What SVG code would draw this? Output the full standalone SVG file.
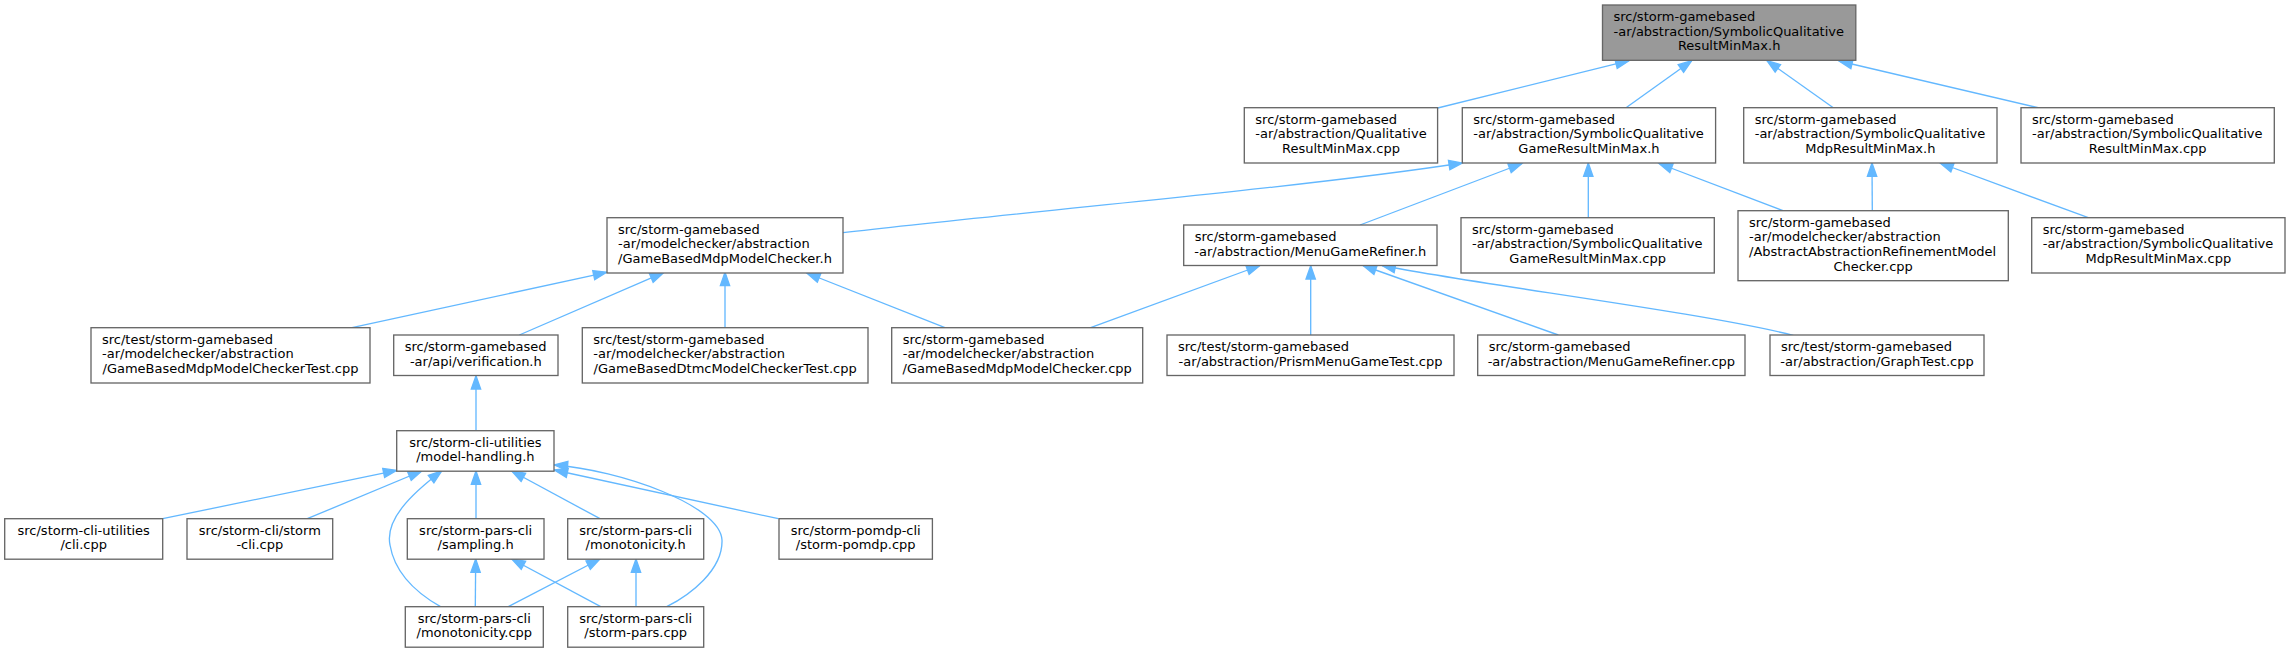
<svg xmlns="http://www.w3.org/2000/svg" width="2291" height="652" viewBox="0 0 2291 652">
<style>
.node rect{fill:#ffffff;stroke:#666666;stroke-width:1.33}
.node.root rect{fill:#999999}
.node text{font-family:"DejaVu Sans",sans-serif;font-size:13px;fill:#000000}
.l{text-anchor:start}
.c{text-anchor:middle}
.edges path{fill:none;stroke:#63b8ff;stroke-width:1.33;marker-start:url(#ah)}
</style>
<defs>
<marker id="ah" markerUnits="userSpaceOnUse" markerWidth="16" markerHeight="12" refX="13.3" refY="4.67" orient="auto-start-reverse" overflow="visible">
<path d="M0,0 L13.3,4.67 L0,9.33 Z" fill="#63b8ff" stroke="#63b8ff" stroke-width="1.33"/>
</marker>
</defs>
<rect width="2291" height="652" fill="#ffffff"/>
<g id="edges" class="edges">
<path d="M1629,60.7 L1437.7,108"/>
<path d="M1691.7,60.7 L1626,107.7"/>
<path d="M1767,60.7 L1833.3,107.7"/>
<path d="M1839,61 L2038.3,107.7"/>
<path d="M1462.3,163 C1300,188 1000,214 843,232.7"/>
<path d="M1522,163.5 L1360,225"/>
<path d="M1588.3,163 L1588.3,217.7"/>
<path d="M1659,163.5 L1783,210.7"/>
<path d="M1872,163 L1872.3,210.7"/>
<path d="M1940,163 L2088.3,217.7"/>
<path d="M606.7,272.3 L352,327.7"/>
<path d="M663.5,272.7 L519.3,335"/>
<path d="M725,272.3 L725,327.7"/>
<path d="M806.7,273 L945,327.7"/>
<path d="M1260,265.5 L1090.6,327.7"/>
<path d="M1310.7,265.7 L1310.7,335"/>
<path d="M1363,265.5 L1558.3,335"/>
<path d="M1382,265.5 C1480,285 1700,312 1793.3,335.3"/>
<path d="M476,375.7 L476,430.7"/>
<path d="M396.7,470.3 L162.7,518.7"/>
<path d="M421.7,471 L307.3,518.7"/>
<path d="M476,471 L476,518.7"/>
<path d="M511.7,471 L600,518.7"/>
<path d="M554.3,470 L778.3,518.7"/>
<path d="M441.7,471 C410,495 385,520 390,545 C395,575 420,595 440.5,606.7"/>
<path d="M554.3,465 C620,470 720,505 722,540 C723,570 690,595 666.7,606.7"/>
<path d="M475.7,559 L475.3,606.7"/>
<path d="M511.7,559 L600.7,606.7"/>
<path d="M600,559 L508.3,606.7"/>
<path d="M636,559 L636,606.7"/>
</g>
<g id="n0" class="node root"><rect x="1602.5" y="5" width="253.3" height="55.3"/><text class="l" x="1613.5" y="21">src/storm-gamebased</text><text class="l" x="1613.5" y="35.7">-ar/abstraction/SymbolicQualitative</text><text class="c" x="1729.15" y="50.3">ResultMinMax.h</text></g>
<g id="n1" class="node"><rect x="1244.3" y="107.7" width="193.3" height="55.3"/><text class="l" x="1255.3" y="123.7">src/storm-gamebased</text><text class="l" x="1255.3" y="138.4">-ar/abstraction/Qualitative</text><text class="c" x="1340.95" y="153">ResultMinMax.cpp</text></g>
<g id="n2" class="node"><rect x="1462.3" y="107.7" width="253.3" height="55.3"/><text class="l" x="1473.3" y="123.7">src/storm-gamebased</text><text class="l" x="1473.3" y="138.4">-ar/abstraction/SymbolicQualitative</text><text class="c" x="1588.95" y="153">GameResultMinMax.h</text></g>
<g id="n3" class="node"><rect x="1743.7" y="107.7" width="253.3" height="55.3"/><text class="l" x="1754.7" y="123.7">src/storm-gamebased</text><text class="l" x="1754.7" y="138.4">-ar/abstraction/SymbolicQualitative</text><text class="c" x="1870.35" y="153">MdpResultMinMax.h</text></g>
<g id="n4" class="node"><rect x="2021" y="107.7" width="253.3" height="55.3"/><text class="l" x="2032" y="123.7">src/storm-gamebased</text><text class="l" x="2032" y="138.4">-ar/abstraction/SymbolicQualitative</text><text class="c" x="2147.65" y="153">ResultMinMax.cpp</text></g>
<g id="n5" class="node"><rect x="607" y="217.7" width="236" height="55.3"/><text class="l" x="618" y="233.7">src/storm-gamebased</text><text class="l" x="618" y="248.4">-ar/modelchecker/abstraction</text><text class="c" x="725" y="263">/GameBasedMdpModelChecker.h</text></g>
<g id="n6" class="node"><rect x="1183.7" y="225" width="253.3" height="40.5"/><text class="l" x="1194.7" y="241">src/storm-gamebased</text><text class="c" x="1310.35" y="255.7">-ar/abstraction/MenuGameRefiner.h</text></g>
<g id="n7" class="node"><rect x="1461" y="217.7" width="253.3" height="55.3"/><text class="l" x="1472" y="233.7">src/storm-gamebased</text><text class="l" x="1472" y="248.4">-ar/abstraction/SymbolicQualitative</text><text class="c" x="1587.65" y="263">GameResultMinMax.cpp</text></g>
<g id="n8" class="node"><rect x="1738" y="210.7" width="270.3" height="70"/><text class="l" x="1749" y="226.7">src/storm-gamebased</text><text class="l" x="1749" y="241.4">-ar/modelchecker/abstraction</text><text class="l" x="1749" y="256">/AbstractAbstractionRefinementModel</text><text class="c" x="1873.15" y="270.7">Checker.cpp</text></g>
<g id="n9" class="node"><rect x="2031.7" y="217.7" width="253.3" height="55.3"/><text class="l" x="2042.7" y="233.7">src/storm-gamebased</text><text class="l" x="2042.7" y="248.4">-ar/abstraction/SymbolicQualitative</text><text class="c" x="2158.35" y="263">MdpResultMinMax.cpp</text></g>
<g id="n10" class="node"><rect x="91" y="327.7" width="279" height="55.3"/><text class="l" x="102" y="343.7">src/test/storm-gamebased</text><text class="l" x="102" y="358.4">-ar/modelchecker/abstraction</text><text class="c" x="230.5" y="373">/GameBasedMdpModelCheckerTest.cpp</text></g>
<g id="n11" class="node"><rect x="393.7" y="335" width="164.3" height="40.5"/><text class="l" x="404.7" y="351">src/storm-gamebased</text><text class="c" x="475.85" y="365.7">-ar/api/verification.h</text></g>
<g id="n12" class="node"><rect x="582.3" y="327.7" width="285.7" height="55.3"/><text class="l" x="593.3" y="343.7">src/test/storm-gamebased</text><text class="l" x="593.3" y="358.4">-ar/modelchecker/abstraction</text><text class="c" x="725.15" y="373">/GameBasedDtmcModelCheckerTest.cpp</text></g>
<g id="n13" class="node"><rect x="891.7" y="327.7" width="251" height="55.3"/><text class="l" x="902.7" y="343.7">src/storm-gamebased</text><text class="l" x="902.7" y="358.4">-ar/modelchecker/abstraction</text><text class="c" x="1017.2" y="373">/GameBasedMdpModelChecker.cpp</text></g>
<g id="n14" class="node"><rect x="1167" y="335" width="287" height="40.5"/><text class="l" x="1178" y="351">src/test/storm-gamebased</text><text class="c" x="1310.5" y="365.7">-ar/abstraction/PrismMenuGameTest.cpp</text></g>
<g id="n15" class="node"><rect x="1477.7" y="335" width="267.3" height="40.5"/><text class="l" x="1488.7" y="351">src/storm-gamebased</text><text class="c" x="1611.35" y="365.7">-ar/abstraction/MenuGameRefiner.cpp</text></g>
<g id="n16" class="node"><rect x="1770" y="335" width="214" height="40.5"/><text class="l" x="1781" y="351">src/test/storm-gamebased</text><text class="c" x="1877" y="365.7">-ar/abstraction/GraphTest.cpp</text></g>
<g id="n17" class="node"><rect x="396.7" y="430.7" width="157.3" height="40.5"/><text class="c" x="475.35" y="446.7">src/storm-cli-utilities</text><text class="c" x="475.35" y="461.4">/model-handling.h</text></g>
<g id="n18" class="node"><rect x="4.7" y="518.7" width="158" height="40.5"/><text class="c" x="83.7" y="534.7">src/storm-cli-utilities</text><text class="c" x="83.7" y="549.4">/cli.cpp</text></g>
<g id="n19" class="node"><rect x="187" y="518.7" width="145.7" height="40.5"/><text class="c" x="259.85" y="534.7">src/storm-cli/storm</text><text class="c" x="259.85" y="549.4">-cli.cpp</text></g>
<g id="n20" class="node"><rect x="407.3" y="518.7" width="136.7" height="40.5"/><text class="c" x="475.65" y="534.7">src/storm-pars-cli</text><text class="c" x="475.65" y="549.4">/sampling.h</text></g>
<g id="n21" class="node"><rect x="567.7" y="518.7" width="136" height="40.5"/><text class="c" x="635.7" y="534.7">src/storm-pars-cli</text><text class="c" x="635.7" y="549.4">/monotonicity.h</text></g>
<g id="n22" class="node"><rect x="779" y="518.7" width="153.4" height="40.5"/><text class="c" x="855.7" y="534.7">src/storm-pomdp-cli</text><text class="c" x="855.7" y="549.4">/storm-pomdp.cpp</text></g>
<g id="n23" class="node"><rect x="405.3" y="606.7" width="138" height="40.5"/><text class="c" x="474.3" y="622.7">src/storm-pars-cli</text><text class="c" x="474.3" y="637.4">/monotonicity.cpp</text></g>
<g id="n24" class="node"><rect x="567.7" y="606.7" width="136" height="40.5"/><text class="c" x="635.7" y="622.7">src/storm-pars-cli</text><text class="c" x="635.7" y="637.4">/storm-pars.cpp</text></g>
</svg>
